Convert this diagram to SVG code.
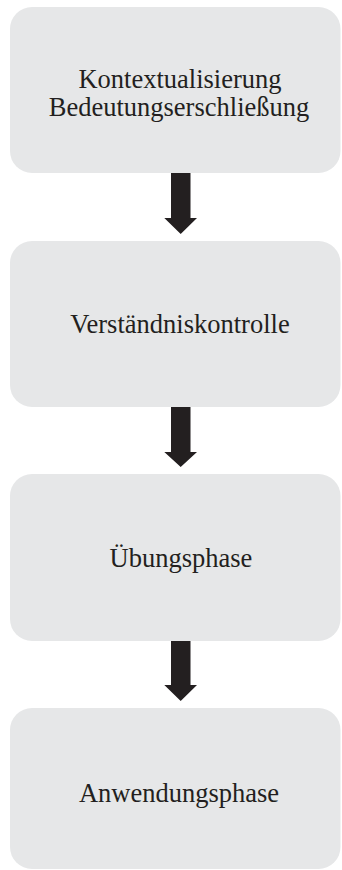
<svg xmlns="http://www.w3.org/2000/svg" width="342" height="870" viewBox="0 0 342 870">
  <style>
    .box { fill: #e6e7e8; }
    .lbl { font-family: "Liberation Serif", "DejaVu Serif", serif; font-size: 26.5px; fill: #231f20; text-anchor: middle; }
    .arrow { fill: #231f20; }
  </style>
  <rect width="342" height="870" fill="#ffffff"/>
  <g id="node1">
    <rect class="box" x="10" y="7" width="330.5" height="166" rx="22" ry="22"/>
    <text class="lbl" x="180" y="88">Kontextualisierung</text>
    <text class="lbl" x="179" y="116">Bedeutungserschließung</text>
  </g>
  <g id="node2">
    <rect class="box" x="10" y="241" width="330.5" height="166" rx="22" ry="22"/>
    <text class="lbl" x="180" y="333">Verständniskontrolle</text>
  </g>
  <g id="node3">
    <rect class="box" x="10" y="474" width="330.5" height="167" rx="22" ry="22"/>
    <text class="lbl" x="181" y="567">Übungsphase</text>
  </g>
  <g id="node4">
    <rect class="box" x="10" y="708" width="330.5" height="161" rx="22" ry="22"/>
    <text class="lbl" x="179" y="802">Anwendungsphase</text>
  </g>
  <g id="connectors">
    <polygon class="arrow" points="171,173 190.5,173 190.5,218 197,218 180.7,234 164.3,218 171,218"/>
    <polygon class="arrow" points="171,407 190.5,407 190.5,452 197,452 180.7,467 164.3,452 171,452"/>
    <polygon class="arrow" points="171,641 190.5,641 190.5,685 197,685 180.7,701 164.3,685 171,685"/>
  </g>
</svg>
